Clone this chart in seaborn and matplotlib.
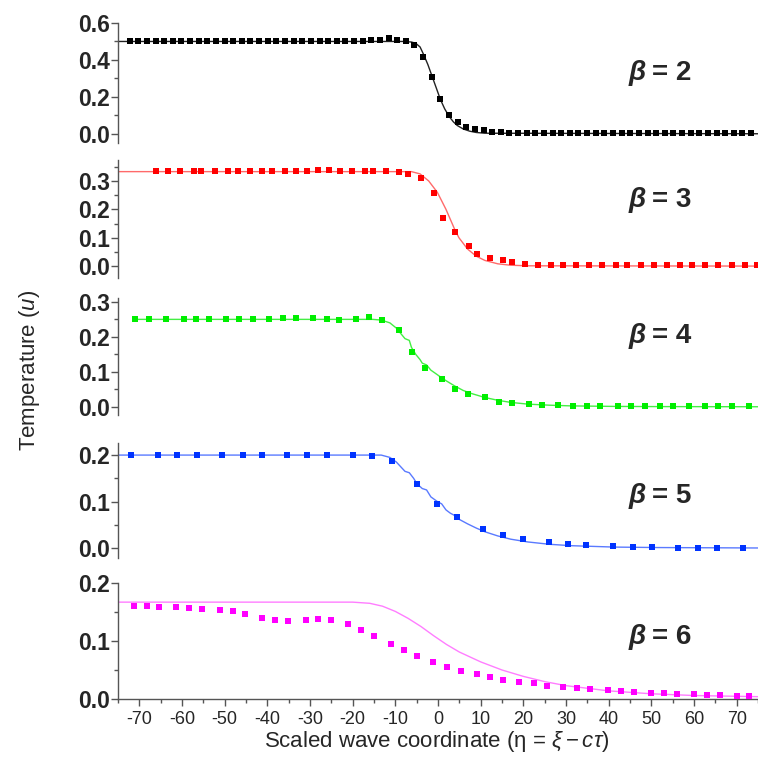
import matplotlib
matplotlib.use("Agg")
import matplotlib.pyplot as plt
import seaborn as sns

# ---- data ----
# beta = 2 (black)
b2_x = [-72.3, -70.3, -68.3, -66.3, -64.3, -62.3, -60.3, -58.3, -56.3, -54.3,
        -52.3, -50.3, -48.3, -46.3, -44.3, -42.3, -40.3, -38.3, -36.3, -34.3,
        -32.3, -30.3, -28.3, -26.3, -24.3, -22.3, -20.3, -18.3, -16.3, -14.3,
        -12.3, -10.3, -8.3, -6.3, -4.3, -2.3, -0.3, 1.7, 3.7, 5.7,
        7.7, 9.7, 11.7, 13.7, 15.7, 17.7, 19.7, 21.7, 23.7, 25.7,
        27.7, 29.7, 31.7, 33.7, 35.7, 37.7, 39.7, 41.7, 43.7, 45.7,
        47.7, 49.7, 51.7, 53.7, 55.7, 57.7, 59.7, 61.7, 63.7, 65.7,
        67.7, 69.7, 71.7]
b2_y = [0.50, 0.50, 0.50, 0.50, 0.50, 0.50, 0.50, 0.50, 0.50, 0.50,
        0.50, 0.50, 0.50, 0.50, 0.50, 0.50, 0.50, 0.50, 0.50, 0.50,
        0.50, 0.50, 0.50, 0.50, 0.50, 0.50, 0.50, 0.50, 0.507, 0.51,
        0.517, 0.507, 0.50, 0.48, 0.418, 0.31, 0.186, 0.104, 0.062, 0.037,
        0.026, 0.018, 0.012, 0.008, 0.006, 0.005, 0.005, 0.005, 0.005, 0.005,
        0.005, 0.005, 0.005, 0.005, 0.005, 0.005, 0.005, 0.005, 0.005, 0.005,
        0.005, 0.005, 0.005, 0.005, 0.005, 0.005, 0.005, 0.005, 0.005, 0.005,
        0.005, 0.005, 0.005]
b2_line_x = [-75, -9, -7, -6, -5, -4.2, -3.2, -2.2, -1.2, -0.3, 0.7, 1.7,
             2.7, 3.6, 5, 6.5, 8, 10, 75]
b2_line_y = [0.50, 0.50, 0.497, 0.49, 0.47, 0.43, 0.375, 0.31, 0.245, 0.186,
             0.135, 0.095, 0.065, 0.045, 0.026, 0.014, 0.007, 0.003, 0.0]

# beta = 3 (red)
b3_x = [-66.3, -63.5, -60.6, -57.5, -55.7, -52.5, -49.4, -47.3, -44.5, -41.6,
        -39.3, -36.4, -33.8, -31.2, -28.6, -26.0, -23.6, -20.8, -17.8, -15.9,
        -12.8, -9.9, -7.8, -4.9, -1.8, 0.3, 3.2, 6.3, 8.2, 11.3,
        14.2, 16.3, 19.3, 22.3, 25.3, 28.0, 31.2, 34.2, 37.2, 40.3,
        43.0, 46.1, 49.2, 52.3, 55.3, 58.0, 61.1, 64.1, 67.2, 70.3, 73.0]
b3_y = [0.336, 0.336, 0.336, 0.336, 0.336, 0.336, 0.336, 0.336, 0.336, 0.336,
        0.336, 0.336, 0.336, 0.336, 0.338, 0.338, 0.336, 0.336, 0.336, 0.336,
        0.334, 0.331, 0.326, 0.312, 0.259, 0.169, 0.121, 0.071, 0.042, 0.029,
        0.020, 0.013, 0.008, 0.005, 0.004, 0.003, 0.003, 0.003, 0.003, 0.003,
        0.003, 0.003, 0.003, 0.003, 0.003, 0.003, 0.003, 0.003, 0.003, 0.003, 0.003]
b3_line_x = [-75, -7, -5, -3, -1, 1, 2, 3, 4, 6, 8, 10, 13, 16, 20, 75]
b3_line_y = [0.333, 0.333, 0.325, 0.30, 0.26, 0.20, 0.165, 0.13, 0.10, 0.06,
             0.035, 0.02, 0.008, 0.003, 0.001, 0.0]

# beta = 4 (green)
b4_x = [-71.0, -67.9, -63.9, -59.8, -57.0, -53.9, -50.0, -46.9, -43.8, -39.9,
        -36.8, -33.7, -29.8, -26.6, -23.8, -19.8, -16.8, -13.8, -10.0, -6.9,
        -3.8, 0.1, 3.2, 6.1, 10.1, 13.2, 16.3, 20.2, 23.2, 26.9,
        30.5, 33.6, 36.7, 40.8, 43.9, 47.0, 50.6, 53.7, 57.4, 61.0,
        64.1, 67.2, 71.3]
b4_y = [0.251, 0.251, 0.251, 0.251, 0.251, 0.251, 0.251, 0.251, 0.251, 0.251,
        0.254, 0.255, 0.254, 0.251, 0.248, 0.251, 0.256, 0.247, 0.219, 0.157,
        0.112, 0.079, 0.050, 0.036, 0.027, 0.015, 0.011, 0.008, 0.006, 0.005,
        0.004, 0.003, 0.003, 0.002, 0.002, 0.002, 0.002, 0.002, 0.002, 0.002,
        0.002, 0.002, 0.002]
b4_line_x = [-71, -16, -14, -12, -10.5, -9.5, -8.5, -7.5, -7, -6, -5, -4.5,
             -3.5, -2.5, -1, 0, 1, 3, 5, 7, 10, 13, 16, 20, 25, 30, 40, 50, 75]
b4_line_y = [0.25, 0.25, 0.248, 0.24, 0.225, 0.21, 0.195, 0.19, 0.17, 0.15,
             0.135, 0.125, 0.12, 0.105, 0.092, 0.083, 0.075, 0.06, 0.047, 0.038,
             0.027, 0.019, 0.013, 0.008, 0.005, 0.003, 0.0015, 0.001, 0.0005]

# beta = 5 (blue)
b5_x = [-72.0, -65.8, -61.3, -56.8, -50.8, -46.1, -41.7, -35.8, -31.1, -26.6,
        -20.5, -16.1, -11.6, -5.7, -1.1, 3.6, 9.6, 14.2, 18.8, 24.8,
        29.2, 33.5, 39.7, 44.4, 48.8, 54.8, 59.4, 63.8, 69.8]
b5_y = [0.200, 0.200, 0.200, 0.200, 0.200, 0.200, 0.200, 0.200, 0.200, 0.200,
        0.200, 0.199, 0.187, 0.138, 0.095, 0.066, 0.041, 0.029, 0.019, 0.012,
        0.009, 0.006, 0.004, 0.003, 0.002, 0.001, 0.001, 0.001, 0.001]
b5_line_x = [-75, -14, -12, -10.5, -9.5, -8.5, -7.5, -6.5, -5.7, -4.5, -3.5,
             -2.5, -1, 0, 1, 2, 3, 4, 6, 8, 10, 13, 16, 20, 25, 30, 40, 50, 75]
b5_line_y = [0.20, 0.20, 0.195, 0.185, 0.175, 0.165, 0.162, 0.15, 0.138, 0.128,
             0.125, 0.11, 0.10, 0.095, 0.082, 0.075, 0.07, 0.062, 0.052, 0.043,
             0.035, 0.026, 0.019, 0.013, 0.008, 0.005, 0.002, 0.001, 0.0]

# beta = 6 (magenta)
b6_x = [-71.3, -68.2, -65.3, -61.3, -58.3, -55.2, -51.1, -48.1, -45.2, -41.2,
        -38.1, -35.2, -31.0, -28.1, -25.1, -21.1, -18.1, -15.1, -11.1, -8.0,
        -4.9, -1.1, 2.2, 5.3, 9.1, 12.2, 15.3, 19.1, 22.4, 25.5,
        29.4, 32.6, 35.7, 39.8, 43.0, 46.0, 50.0, 53.0, 56.0, 60.0,
        63.0, 66.0, 70.0, 73.0]
b6_y = [0.161, 0.160, 0.159, 0.158, 0.157, 0.156, 0.153, 0.151, 0.147, 0.140,
        0.137, 0.134, 0.137, 0.138, 0.136, 0.130, 0.119, 0.108, 0.095, 0.085,
        0.074, 0.064, 0.056, 0.049, 0.043, 0.038, 0.033, 0.029, 0.027, 0.023,
        0.021, 0.019, 0.017, 0.015, 0.014, 0.012, 0.011, 0.010, 0.009, 0.008,
        0.007, 0.007, 0.006, 0.006]
b6_line_x = [-75, -20, -16, -13, -10, -7, -4, -1, 2, 5, 10, 15, 20, 25, 30,
             40, 50, 60, 75]
b6_line_y = [0.167, 0.167, 0.165, 0.160, 0.151, 0.139, 0.125, 0.109, 0.094,
             0.081, 0.064, 0.05, 0.039, 0.030, 0.023, 0.014, 0.009, 0.006, 0.004]

betas = ["2", "3", "4", "5", "6"]
x_ticks = [-70, -60, -50, -40, -30, -20, -10, 0, 10, 20, 30, 40, 50, 60, 70]

# ---- style ----
sns.set_theme(style="ticks")
plt.rcParams["font.family"] = ["Liberation Sans", "DejaVu Sans"]
plt.rcParams["mathtext.fontset"] = "custom"
plt.rcParams["mathtext.rm"] = "Liberation Sans"
plt.rcParams["mathtext.it"] = "Liberation Sans:italic"

W, H = 758, 765
fig = plt.figure(figsize=(W / 100, H / 100), dpi=100)

# (top px, bottom px, ylim, major ticks, minor ticks, marker colour, line colour, label y px)
panels = [
    (23, 143, (-0.05, 0.6), [0.0, 0.2, 0.4, 0.6], [0.1, 0.3, 0.5], "#000000", "#222222", 73),
    (160, 278, (-0.042, 0.374), [0.0, 0.1, 0.2, 0.3], [0.05, 0.15, 0.25, 0.35], "#ff0000", "#ff6a6a", 200),
    (298, 415, (-0.023, 0.311), [0.0, 0.1, 0.2, 0.3], [0.05, 0.15, 0.25], "#00ee00", "#44ee44", 336),
    (443, 558, (-0.0215, 0.226), [0.0, 0.1, 0.2], [0.05, 0.15], "#0033ff", "#5a7aff", 496),
    (583, 699, (0.0, 0.2), [0.0, 0.1, 0.2], [0.05, 0.15], "#ff00ff", "#ff7dff", 637),
]
series = [
    (b2_x, b2_y, b2_line_x, b2_line_y),
    (b3_x, b3_y, b3_line_x, b3_line_y),
    (b4_x, b4_y, b4_line_x, b4_line_y),
    (b5_x, b5_y, b5_line_x, b5_line_y),
    (b6_x, b6_y, b6_line_x, b6_line_y),
]

L, R = 118, 758
for i, ((top, bot, ylim, major, minor, mc, lc, ly), (mx, my, lx, lyv)) in enumerate(zip(panels, series)):
    ax = fig.add_axes([L / W, 1 - bot / H, (R - L) / W, (bot - top) / H])
    sns.lineplot(x=lx, y=lyv, ax=ax, color=lc, lw=1.0, estimator=None, sort=False)
    sns.scatterplot(x=mx, y=my, ax=ax, marker="s", s=22, color=mc, linewidth=0, zorder=3)
    ax.set_xlim(-75, 73.3)
    ax.set_ylim(*ylim)
    ax.set_xlabel("")
    ax.set_ylabel("")
    for s in ["top", "right"]:
        ax.spines[s].set_visible(False)
    ax.spines["left"].set_color("#555555")
    ax.spines["left"].set_linewidth(1.0)
    ax.set_yticks(major)
    ax.set_yticklabels([f"{v:.1f}" for v in major], fontweight="bold", fontsize=16.5)
    ax.set_yticks(minor, minor=True)
    ax.tick_params(axis="y", which="major", direction="out", length=5, width=1,
                   color="#555555", pad=1)
    ax.tick_params(axis="y", which="minor", direction="out", length=3, width=1,
                   color="#555555")
    last = i == len(panels) - 1
    if last:
        ax.spines["bottom"].set_color("#555555")
        ax.spines["bottom"].set_linewidth(1.0)
        ax.set_xticks(x_ticks)
        ax.set_xticklabels([str(v) for v in x_ticks], fontsize=13,
                           family=["Liberation Sans Narrow", "Liberation Sans"])
        ax.set_xticks([v + 5 for v in [-80] + x_ticks], minor=True)
        ax.tick_params(axis="x", which="major", direction="out", length=5, width=1,
                       color="#555555", pad=4)
        ax.tick_params(axis="x", which="minor", direction="out", length=3, width=1,
                       color="#555555")
    else:
        ax.spines["bottom"].set_visible(False)
        ax.tick_params(axis="x", which="both", bottom=False, labelbottom=False)

    fig.text(629 / W, 1 - ly / H, "β", fontsize=20, fontweight="bold",
             style="italic", ha="left", va="center")
    fig.text(652 / W, 1 - ly / H, "= " + betas[i], fontsize=20, fontweight="bold",
             ha="left", va="center")

fig.text(30 / W, 1 - 370 / H, "Temperature ($u$)", rotation=90, fontsize=16,
         ha="center", va="center")
fig.text(437 / W, 1 - 742 / H, r"Scaled wave coordinate (η = $\xi - c\tau$)",
         fontsize=16, ha="center", va="center")

fig.savefig("out.png", dpi=100)
